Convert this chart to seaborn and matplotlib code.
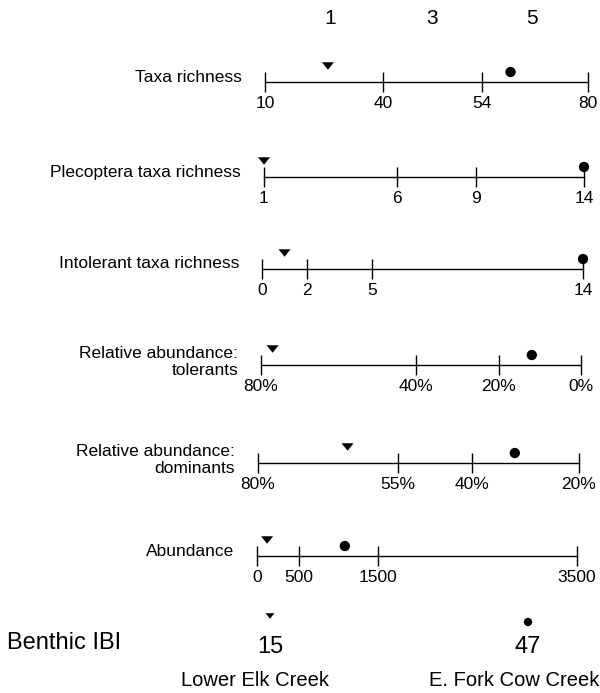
import numpy as np
import pandas as pd
import matplotlib
matplotlib.use("Agg")
import matplotlib.pyplot as plt
import seaborn as sns
from matplotlib.path import Path

# ---------------- data ----------------
metrics = ["Taxa richness", "Plecoptera taxa richness", "Intolerant taxa richness",
           "Relative abundance:\ntolerants", "Relative abundance:\ndominants", "Abundance"]
tick_values = [[10, 40, 54, 80], [1, 6, 9, 14], [0, 2, 5, 14],
               [80, 40, 20, 0], [80, 55, 40, 20], [0, 500, 1500, 3500]]
tick_labels = [["10", "40", "54", "80"], ["1", "6", "9", "14"], ["0", "2", "5", "14"],
               ["80%", "40%", "20%", "0%"], ["80%", "55%", "40%", "20%"],
               ["0", "500", "1500", "3500"]]
sites = ["Lower Elk Creek", "E. Fork Cow Creek"]
lower_elk = [26, 1, 1, 77, 64, 120]
ef_cow = [61, 14, 14, 12, 32, 1080]
score_labels = ["1", "3", "5"]
ibi = [15, 47]

# ---------------- layout / style ----------------
W, H = 600, 693
tick_px = [[265, 383, 482, 588], [264, 397, 476, 584], [262, 307, 372, 583],
           [261, 416, 499, 581], [258, 398, 472, 579], [257, 299, 378, 577]]
line_y = [82, 177, 269, 365, 463, 556]
score_px = [330, 432, 532]
marker_off = {sites[0]: 16, sites[1]: 10}

sns.set_theme(style="white")
plt.rcParams["font.family"] = ["Liberation Sans", "DejaVu Sans"]

tri = Path([(-1, 0.62), (1, 0.62), (0, -0.62), (-1, 0.62)],
           [Path.MOVETO, Path.LINETO, Path.LINETO, Path.CLOSEPOLY])
markers = {sites[0]: tri, sites[1]: "o"}
palette = {sites[0]: "black", sites[1]: "black"}

fig = plt.figure(figsize=(W / 100, H / 100), dpi=100)
ov = fig.add_axes([0, 0, 1, 1])
ov.set_xlim(0, W)
ov.set_ylim(H, 0)
ov.axis("off")


def make_scale(vals, px):
    """Piecewise-linear scale: value -> position along the drawn line."""
    vals = np.asarray(vals, float)
    px = np.asarray(px, float)
    order = np.argsort(vals)
    vs, ps = vals[order], px[order]

    def fwd(v):
        return np.interp(v, vs, ps)

    def inv(p):
        return np.interp(p, px, vals)
    return fwd, inv


for i, name in enumerate(metrics):
    vals, px, ly = tick_values[i], tick_px[i], line_y[i]
    ax = fig.add_axes([px[0] / W, 1 - (ly + 25) / H, (px[-1] - px[0]) / W, 50 / H])
    fwd, inv = make_scale(vals, px)
    ax.set_xscale("function", functions=(fwd, inv))
    ax.patch.set_alpha(0)
    df = pd.DataFrame({"site": sites, "value": [lower_elk[i], ef_cow[i]]})
    df["y"] = df["site"].map(marker_off)
    sns.scatterplot(data=df, x="value", y="y", hue="site", style="site",
                    size="site", sizes={sites[0]: 75, sites[1]: 55},
                    markers=markers, palette=palette, linewidth=0,
                    legend=False, ax=ax)
    for c in ax.collections:
        c.set_clip_on(False)
    for s in ["top", "left", "right"]:
        ax.spines[s].set_visible(False)
    ax.spines["bottom"].set_position(("data", 0))
    ax.spines["bottom"].set_color("black")
    ax.spines["bottom"].set_linewidth(1.0)
    ax.set_xticks(vals)
    ax.set_xticklabels(tick_labels[i])
    ax.minorticks_off()
    ax.set_yticks([])
    ax.tick_params(axis="x", direction="inout", length=14, width=1.0,
                   color="black", pad=3, labelsize=12.5, labelcolor="black",
                   bottom=True)
    ax.set_xlabel("")
    ax.set_ylabel("")
    ax.set_ylim(-25, 25)
    # matplotlib orders the transformed view box by the data limits, so a
    # decreasing scale shows its first tick on the left with ascending limits
    ax.set_xlim(min(vals), max(vals))
    ylab = ly - 5 if "\n" not in name else ly - 3
    ov.text(px[0] - 23, ylab, name, ha="right", va="center", ma="right",
            fontsize=12.5, color="black", linespacing=1.2)

# score header
for lab, x in zip(score_labels, score_px):
    ov.text(x, 19, lab, ha="center", va="center", fontsize=15, color="black")

# Benthic IBI row
ax2 = fig.add_axes([230 / W, 1 - 690 / H, 340 / W, 90 / H])
k = (528 - 270) / (ibi[1] - ibi[0])
ax2.axis("off")
dfi = pd.DataFrame({"site": sites, "value": ibi})
dfi["y"] = dfi["site"].map({sites[0]: 616, sites[1]: 622})
sns.scatterplot(data=dfi, x="value", y="y", hue="site", style="site",
                size="site", sizes={sites[0]: 42, sites[1]: 36},
                markers=markers, palette=palette, linewidth=0, legend=False, ax=ax2)
ax2.set_xlim(ibi[0] - 40 / k, ibi[1] + 42 / k)
ax2.set_ylim(690, 600)
for v in ibi:
    ax2.text(v, 647, str(v), ha="center", va="center", fontsize=17, color="black")

ov.text(7, 643, "Benthic IBI", ha="left", va="center", fontsize=17, color="black")
ov.text(255, 681, sites[0], ha="center", va="center", fontsize=14.5, color="black")
ov.text(514, 681, sites[1], ha="center", va="center", fontsize=14.5, color="black")

fig.savefig("out.png", dpi=100)
